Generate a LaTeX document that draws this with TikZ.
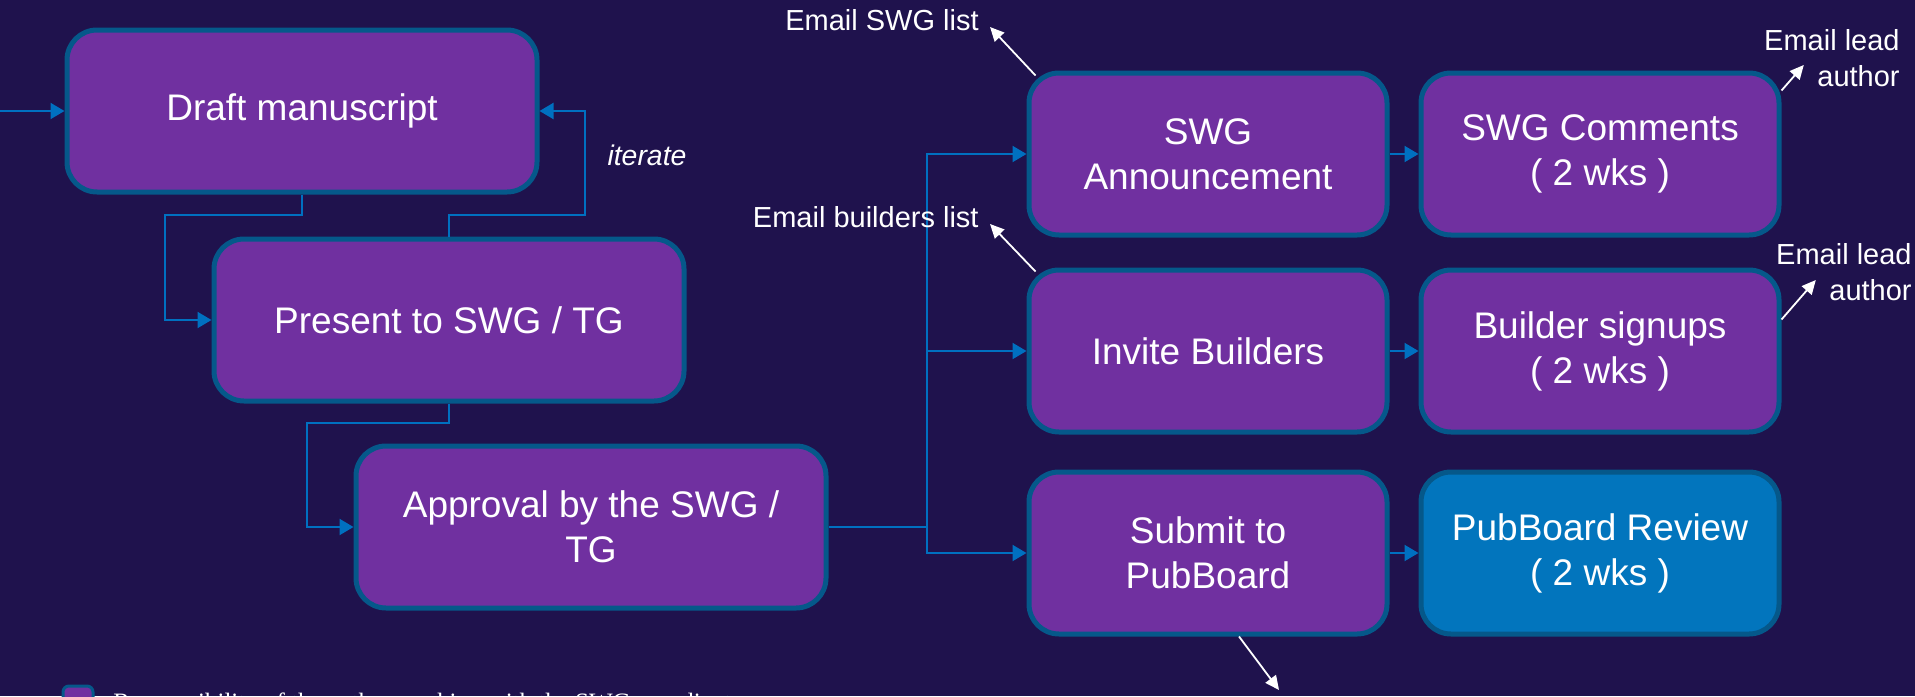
\documentclass[tikz,border=0pt]{standalone}
\usepackage{fontspec}
\setmainfont{Liberation Sans}
\newfontfamily\legendfont{Liberation Serif}
\usetikzlibrary{positioning,arrows.meta}

\definecolor{bgnavy}{RGB}{31,18,77}
\definecolor{stagefill}{RGB}{112,48,160}
\definecolor{stageedge}{RGB}{5,88,138}
\definecolor{flowblue}{RGB}{0,112,192}
\definecolor{reviewfill}{RGB}{2,117,189}

\tikzset{
  stage/.style = {draw = stageedge, line width = 2.5pt, fill = stagefill,
    rounded corners = 15pt, text = white, align = center,
    font = \fontsize{18.5}{22.5}\selectfont, minimum height = 81pt},
  wide stage/.style = {stage, minimum width = 235pt},
  narrow stage/.style = {stage, minimum width = 179pt},
  flow/.style = {draw = flowblue, line width = 1pt,
    -{Triangle[length = 7pt, width = 8pt]}},
  mail/.style = {text = white, inner sep = 0pt,
    font = \fontsize{14.5}{18}\selectfont},
  mailarrow/.style = {draw = white, line width = 0.9pt,
    -{Triangle[length = 7pt, width = 6.5pt]}}
}

\begin{document}
\begin{tikzpicture}[x = 0.5pt, y = -0.5pt]
  % background
  \useasboundingbox[fill = bgnavy] (0,0) rectangle (1915,696);

  \coordinate (entry) at (0,111);
  \coordinate (fork) at (927,527);
  \coordinate (pubnote) at (1279,690);

  % left column
  \node[wide stage] (draft) at (302,111) {Draft manuscript};
  \node[wide stage] (present) at (449,320) {Present to SWG / TG};
  \node[wide stage] (approval) at (591,527) {Approval by the SWG /\\TG};

  % right columns
  \node[narrow stage] (announce) at (1208,154) {SWG\\Announcement};
  \node[narrow stage, right = 14.5pt of announce] (comments)
    {SWG Comments\\( 2 wks )};
  \node[narrow stage] (invite) at (1208,351) {Invite Builders};
  \node[narrow stage, right = 14.5pt of invite] (signups)
    {Builder signups\\( 2 wks )};
  \node[narrow stage] (submit) at (1208,553) {Submit to\\PubBoard};
  \node[narrow stage, fill = reviewfill, right = 14.5pt of submit] (review)
    {PubBoard Review\\( 2 wks )};

  % flow between stages
  \draw[flow] (entry) -- (draft.west);
  \draw[flow] (draft.south) |- (165,215) |- (present.west);
  \draw[flow] (present.north) |- (585,215) |- (draft.east);
  \draw[flow] (present.south) |- (307,423) |- (approval.west);
  \draw[flow] (approval.east) -- (fork) |- (announce.west);
  \draw[flow] (fork) |- (invite.west);
  \draw[flow] (fork) |- (submit.west);
  \draw[flow] (announce) -- (comments);
  \draw[flow] (invite) -- (signups);
  \draw[flow] (submit) -- (review);

  % label of the loop
  \node[text = white, font = \itshape\fontsize{14.2}{17}\selectfont]
    (iterlabel) at (647,155) {iterate};

  % emails
  \node[mail, anchor = east] (swglist) at (979,20) {Email SWG list};
  \node[mail, anchor = east] (builderlist) at (979,217) {Email builders list};
  \node[mail, align = right, anchor = east] (leadA) at (1900,58)
    {Email lead\\author};
  \node[mail, align = right, anchor = east] (leadB) at (1912,272)
    {Email lead\\author};

  \draw[mailarrow] ([shift = {(4.5pt,-2.5pt)}]announce.north west)
    -- ([shift = {(5.5pt,-3.5pt)}]swglist.east);
  \draw[mailarrow] ([shift = {(4.5pt,-2pt)}]invite.north west)
    -- ([shift = {(5.5pt,-3.5pt)}]builderlist.east);
  \draw[mailarrow] ([yshift = -10pt]comments.north east)
    -- ([shift = {(20pt,-3.5pt)}]leadA.west);
  \draw[mailarrow] ([yshift = -26pt]signups.north east)
    -- ([shift = {(20pt,-4pt)}]leadB.west);
  \draw[mailarrow] ([xshift = 15.5pt]submit.south) -- (pubnote);

  % legend, cut by the lower edge
  \node[draw = stageedge, line width = 1.5pt, fill = stagefill,
    rounded corners = 3pt, minimum size = 15pt, inner sep = 0pt]
    (key) at (78,701) {};
  \node[anchor = base west, text = white, inner sep = 0pt,
    font = \legendfont\fontsize{12.5}{15}\selectfont] (keytext) at (113,710)
    {Responsibility of the author working with the SWG coordinator};
\end{tikzpicture}
\end{document}
